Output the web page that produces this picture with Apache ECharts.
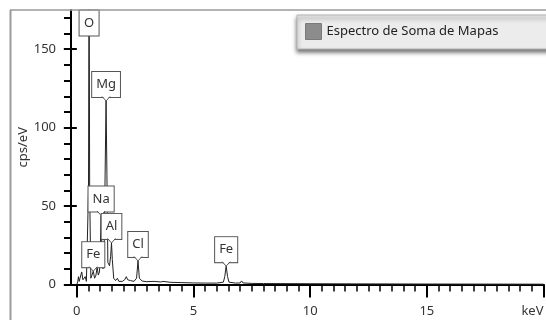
<!DOCTYPE html>
<html>
<head>
<meta charset="utf-8">
<script src="https://cdn.jsdelivr.net/npm/echarts@6/dist/echarts.min.js"></script>
<style>
  html, body { margin: 0; padding: 0; background: #fff; }
  #chart { width: 546px; height: 320px; }
</style>
</head>
<body>
<div id="chart"></div>
<script>
// EDS sum spectrum: energy (keV) vs counts per second per eV
const seriesName = 'Espectro de Soma de Mapas';

// Labelled element peaks (energy, height)
const peakNames   = ['O',   'Fe',   'Na',  'Mg',   'Al',   'Cl',   'Fe'];
const peakEnergy  = [0.525, 0.705,  1.04,  1.253,  1.486,  2.622,  6.40];
const peakHeight  = [210,   8.5,    44,    117,    26.5,   15,     11.7];

// Remaining spectrum samples (background and minor lines)
const backgroundPts = [
  [0.00, 0], [0.04, 2], [0.07, 5], [0.10, 2], [0.16, 3], [0.21, 8], [0.26, 3],
  [0.31, 2], [0.36, 5], [0.41, 2], [0.46, 3], [0.50, 60], [0.55, 60], [0.60, 4],
  [0.65, 4], [0.76, 4], [0.82, 6], [0.87, 11], [0.92, 6], [0.97, 8], [1.00, 20],
  [1.08, 20], [1.12, 10], [1.17, 20], [1.22, 80], [1.29, 70], [1.33, 14],
  [1.40, 12], [1.45, 18], [1.52, 16], [1.58, 4], [1.66, 2.5], [1.74, 4],
  [1.80, 2], [1.95, 2], [2.05, 3], [2.12, 5], [2.18, 3], [2.30, 2.5], [2.45, 2],
  [2.56, 4], [2.68, 4], [2.80, 2.2], [3.00, 1.8], [3.31, 2], [3.60, 1.6],
  [3.69, 2], [4.00, 1.4], [4.50, 1.2], [5.00, 1.0], [5.50, 0.9], [6.00, 0.9],
  [6.28, 1.5], [6.34, 5], [6.46, 5], [6.52, 1.5], [6.80, 0.9], [7.00, 1],
  [7.06, 2.3], [7.12, 1], [7.50, 0.7], [8.00, 0.6], [10, 0.5], [12, 0.4],
  [15, 0.3], [20, 0.2]
];

// Axis ticks and labels
const xMajorTicks = [0, 5, 10, 15, 20];
const xLabelTicks = [0, 5, 10, 15, 20];
const xMinorTicks = [];
for (let i = 0; i <= 40; i++) xMinorTicks.push(i / 2);
const yMajorTicks = [0, 50, 100, 150];
const yMinorTicks = [];
for (let i = 0; i <= 17; i++) yMinorTicks.push(i * 10);

const Y_MAX = 175;
const FONT = '"Noto Sans", "DejaVu Sans", sans-serif';

const spectrum = backgroundPts
  .concat(peakEnergy.map((e, i) => [e, peakHeight[i]]))
  .sort((a, b) => a[0] - b[0]);

const peakData = peakEnergy.map((e, i) => [e, peakHeight[i]]);

const chart = echarts.init(document.getElementById('chart'), null, { renderer: 'canvas' });

function renderPeakTag(params, api) {
  const e = api.value(0);
  const h = api.value(1);
  const clipped = h > Y_MAX;
  const tip = api.coord([e, Math.min(h, Y_MAX)]);
  const cx = tip[0];
  const name = peakNames[params.dataIndex];
  const gridTop = params.coordSys.y;
  const boxH = 24;
  const bottom = clipped ? gridTop + 1.5 + boxH : tip[1] - 4;
  const children = [{
    type: 'text',
    style: {
      text: name,
      x: cx,
      y: bottom,
      align: 'center',
      verticalAlign: 'bottom',
      font: '13px ' + FONT,
      fill: '#333',
      lineHeight: 15,
      backgroundColor: '#fff',
      borderColor: '#555',
      borderWidth: 1,
      padding: [5, 4, 5, 4],
      width: name.length === 1 ? 11 : undefined,
      overflow: 'none'
    }
  }];
  if (!clipped) {
    children.push({
      type: 'polygon',
      shape: { points: [[cx - 4, bottom - 1.2], [cx, tip[1]], [cx + 4, bottom - 1.2]] },
      style: { fill: '#fff' }
    });
    children.push({
      type: 'polyline',
      shape: { points: [[cx - 4, bottom - 0.5], [cx, tip[1]], [cx + 4, bottom - 0.5]] },
      style: { stroke: '#555', lineWidth: 1, fill: null }
    });
  }
  return { type: 'group', children: children };
}

chart.setOption({
  animation: false,
  backgroundColor: '#fff',
  grid: {
    left: 71, right: 2.5, top: 10, bottom: 35.5,
    outerBoundsMode: 'none'
  },
  legend: {
    left: 297, top: 15,
    data: [{ name: seriesName, icon: 'rect',
             itemStyle: { color: '#8c8c8c', borderColor: '#7a7a7a', borderWidth: 1 } }],
    itemWidth: 16, itemHeight: 16,
    padding: [8, 90, 9, 8],
    backgroundColor: '#ececec',
    borderColor: '#b5b5b5',
    borderWidth: 1,
    shadowColor: 'rgba(0,0,0,0.55)',
    shadowBlur: 4,
    shadowOffsetY: 3,
    textStyle: { color: '#222', fontSize: 13, fontFamily: FONT },
    selectedMode: false
  },
  xAxis: [{
    type: 'value', min: -0.25, max: 20, position: 'bottom',
    axisLine: { show: true, onZero: false, lineStyle: { color: '#000', width: 2 } },
    axisTick: { show: true, customValues: xMinorTicks, length: 7, lineStyle: { color: '#000', width: 1.5 } },
    axisLabel: {
      customValues: xLabelTicks, margin: 20, color: '#333', fontSize: 13, fontFamily: FONT,
      alignMaxLabel: 'right',
      formatter: v => (v === 20 ? 'keV' : String(v))
    },
    splitLine: { show: false }
  }, {
    type: 'value', min: -0.25, max: 20, position: 'bottom',
    axisLine: { show: false },
    axisTick: { show: true, customValues: xMajorTicks, length: 13, lineStyle: { color: '#000', width: 2 } },
    axisLabel: { show: false },
    splitLine: { show: false }
  }],
  yAxis: [{
    type: 'value', min: 0, max: Y_MAX, position: 'left',
    name: 'cps/eV', nameLocation: 'middle', nameGap: 41, nameMoveOverlap: false,
    nameTextStyle: { color: '#333', fontSize: 13, fontFamily: FONT },
    axisLine: { show: true, onZero: false, lineStyle: { color: '#000', width: 2 } },
    axisTick: { show: true, customValues: yMinorTicks, length: 7, lineStyle: { color: '#000', width: 2 } },
    axisLabel: { customValues: yMajorTicks, margin: 15, color: '#333', fontSize: 13, fontFamily: FONT },
    splitLine: { show: false }
  }, {
    type: 'value', min: 0, max: Y_MAX, position: 'left',
    axisLine: { show: false },
    axisTick: { show: true, customValues: yMajorTicks, length: 13, lineStyle: { color: '#000', width: 2 } },
    axisLabel: { show: false },
    splitLine: { show: false }
  }],
  graphic: [
    { type: 'line', shape: { x1: 10, y1: 10, x2: 546, y2: 10 }, style: { stroke: '#9a9a9a', lineWidth: 1.5 }, z: 100 },
    { type: 'line', shape: { x1: 10.5, y1: 10, x2: 10.5, y2: 320 }, style: { stroke: '#9a9a9a', lineWidth: 2 }, z: 100 }
  ],
  series: [{
    name: seriesName,
    type: 'line',
    data: spectrum,
    showSymbol: false,
    clip: true,
    lineStyle: { color: '#222', width: 1 },
    itemStyle: { color: '#8c8c8c' },
    z: 2
  }, {
    name: 'Picos',
    type: 'custom',
    data: peakData,
    renderItem: renderPeakTag,
    clip: false,
    z: 5
  }]
});
</script>
</body>
</html>
